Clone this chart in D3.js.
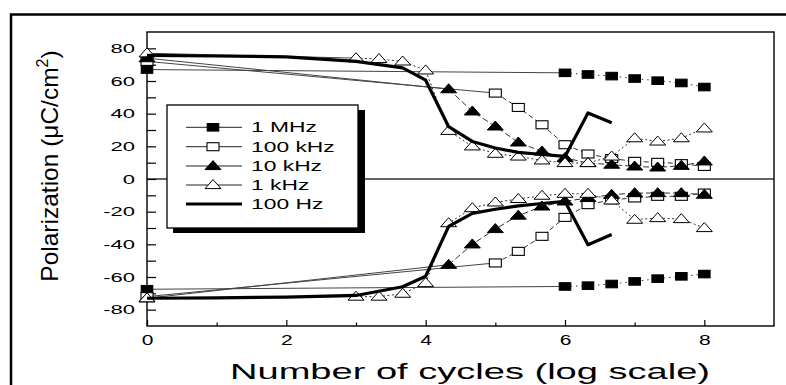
<!DOCTYPE html>
<html><head><meta charset="utf-8">
<script src="https://cdn.jsdelivr.net/npm/d3@7"></script>
<style>
html,body{margin:0;padding:0;background:#fff;}
svg{display:block;font-family:"Liberation Sans",Arial,sans-serif;}
</style></head>
<body><svg id="c" width="786" height="385"></svg>
<script>
// ---- data (x = log10 of number of cycles, y = polarization in uC/cm2) ----
const seriesNames = ["1 MHz", "100 kHz", "10 kHz", "1 kHz", "100 Hz"];

const x1MHz = [0, 6, 6.33, 6.67, 7, 7.33, 7.67, 8];
const p1MHzPos = [67, 65, 64, 63, 61.5, 60.2, 58.8, 56.3];
const p1MHzNeg = [-67.5, -65.8, -65.3, -64.3, -62.7, -61, -59.6, -58.2];

const x100kHz = [0, 5, 5.33, 5.67, 6, 6.33, 6.67, 7, 7.33, 7.67, 8];
const p100kHzPos = [72, 52.6, 43.8, 33.2, 21, 15.3, 12.5, 10.8, 10.2, 9.4, 7.7];
const p100kHzNeg = [-72, -51.4, -44.3, -35.1, -23.5, -15.7, -12.7, -11.6, -10.6, -10.6, -8.6];

const x10kHz = [0, 4.33, 4.67, 5, 5.33, 5.67, 6, 6.33, 6.67, 7, 7.33, 7.67, 8];
const p10kHzPos = [74, 55, 41.4, 32.2, 22.4, 16.9, 12.9, 9.8, 8.8, 7.7, 7.1, 8.1, 10.8];
const p10kHzNeg = [-73, -52.5, -40, -30.6, -22.4, -16.8, -13.7, -11.6, -9.6, -8.6, -8.6, -8.6, -9.6];

const x1kHz = [0, 3, 3.33, 3.67, 4, 4.33, 4.67, 5, 5.33, 5.67, 6, 6.33, 6.67, 7, 7.33, 7.67, 8];
const p1kHzPos = [77, 74, 73.5, 72, 66.5, 29.5, 20, 15.5, 13.8, 11.4, 9.8, 9.8, 13.8, 25, 23, 25, 31];
const p1kHzNeg = [-73, -72, -72, -70.2, -63.7, -27, -17.8, -14.3, -12.2, -10.2, -9, -9, -13.1, -24.9, -23.9, -24.5, -30];

const x100Hz = [0, 1, 2, 3, 3.67, 4, 4.33, 4.67, 5, 5.33, 5.67, 6, 6.33, 6.67];
const p100HzPos = [75.7, 75.3, 74.8, 72, 68, 60.5, 32, 23, 19, 16.3, 15, 13.8, 40.4, 34.5];
const p100HzNeg = [-73, -72.8, -72.3, -71.3, -66, -59.5, -29, -21, -18.5, -16.5, -15, -13.7, -40.2, -34];

const yTickValues = [-80, -70, -60, -50, -40, -30, -20, -10, 0, 10, 20, 30, 40, 50, 60, 70, 80];
const xMajorTicks = [0, 2, 4, 6, 8];
const xMinorTicks = [1, 3, 5, 7];
const xTitle = "Number of cycles (log scale)";

// ---- drawing ----
const svg = d3.select("#c");
const K = 1.63; // horizontal stretch of the original lettering
function stretch(sel, k) {
  sel.each(function () {
    const L = this.getComputedTextLength();
    if (L > 0) d3.select(this).attr("textLength", L * k).attr("lengthAdjust", "spacingAndGlyphs");
  });
}

const L = 147, R = 774, T = 32, B = 326;
const x = d3.scaleLinear().domain([0, 9]).range([L, R]);
const y = d3.scaleLinear().domain([-90, 90]).range([B, T]);

// outer frame
svg.append("rect").attr("x", 11).attr("y", 14.5).attr("width", 800).attr("height", 400)
  .attr("fill", "none").attr("stroke", "#000").attr("stroke-width", 2.5);

// zero line
svg.append("line").attr("x1", L).attr("x2", R).attr("y1", y(0)).attr("y2", y(0))
  .attr("stroke", "#333").attr("stroke-width", 1.6);

// axes
const yAx = svg.append("g").attr("transform", `translate(${L},0)`)
  .call(d3.axisLeft(y).tickValues(yTickValues).tickSizeInner(-9).tickSizeOuter(0).tickPadding(12)
    .tickFormat(d => (d % 20 === 0 ? String(d) : "")));
yAx.select(".domain").remove();
yAx.selectAll(".tick line").attr("stroke", "#000").attr("stroke-width", 1.2);
yAx.selectAll(".tick text").attr("font-size", 13.5).attr("fill", "#000")
  .attr("font-family", "Liberation Sans, Arial, sans-serif").call(stretch, K);

const xAx = svg.append("g").attr("transform", `translate(0,${B})`)
  .call(d3.axisBottom(x).tickValues(xMajorTicks).tickSizeInner(-6).tickSizeOuter(0).tickPadding(9)
    .tickFormat(d => String(d)));
xAx.select(".domain").remove();
xAx.selectAll(".tick line").attr("stroke", "#000").attr("stroke-width", 1.2);
xAx.selectAll(".tick text").attr("font-size", 14).attr("fill", "#000")
  .attr("font-family", "Liberation Sans, Arial, sans-serif").call(stretch, 1.5);
const xAxm = svg.append("g").attr("transform", `translate(0,${B})`)
  .call(d3.axisBottom(x).tickValues(xMinorTicks).tickSizeInner(-3.5).tickSizeOuter(0).tickFormat(""));
xAxm.select(".domain").remove();
xAxm.selectAll(".tick line").attr("stroke", "#000").attr("stroke-width", 1.2);

// plot frame
svg.append("rect").attr("x", L).attr("y", T).attr("width", R - L).attr("height", B - T)
  .attr("fill", "none").attr("stroke", "#000").attr("stroke-width", 1.4);

// series
const series = [
  { name: seriesNames[0], xs: x1MHz, branches: [p1MHzPos, p1MHzNeg], marker: "sqFill", dash: "1.5,4" },
  { name: seriesNames[1], xs: x100kHz, branches: [p100kHzPos, p100kHzNeg], marker: "sqOpen", dash: "5,3" },
  { name: seriesNames[2], xs: x10kHz, branches: [p10kHzPos, p10kHzNeg], marker: "triFill", dash: "6,3" },
  { name: seriesNames[3], xs: x1kHz, branches: [p1kHzPos, p1kHzNeg], marker: "triOpen", dash: "2,2.5" },
  { name: seriesNames[4], xs: x100Hz, branches: [p100HzPos, p100HzNeg], marker: null, dash: null }
];

const line = d3.line().x(d => x(d[0])).y(d => y(d[1]));

function drawMarker(g, type, cx, cy) {
  if (type === "sqFill" || type === "sqOpen") {
    const w = type === "sqFill" ? 11.5 : 12, h = type === "sqFill" ? 7.5 : 8;
    g.append("rect").attr("x", cx - w / 2).attr("y", cy - h / 2).attr("width", w).attr("height", h)
      .attr("fill", type === "sqFill" ? "#000" : "#fff").attr("stroke", "#000").attr("stroke-width", 1.1);
  } else if (type === "triFill" || type === "triOpen") {
    const w = 16, h = 9;
    const pts = [[cx, cy - h * 0.6], [cx + w / 2, cy + h * 0.4], [cx - w / 2, cy + h * 0.4]];
    g.append("path").attr("d", d3.line()(pts) + "Z")
      .attr("fill", type === "triFill" ? "#000" : "#fff").attr("stroke", "#000").attr("stroke-width", 1);
  }
}

const gLines = svg.append("g");
const gMarks = svg.append("g");
series.forEach(s => {
  s.branches.forEach(vals => {
    const pts = s.xs.map((xv, i) => [xv, vals[i]]);
    if (s.marker) {
      // first long connecting segment: thin solid
      gLines.append("path").attr("d", line(pts.slice(0, 2))).attr("fill", "none")
        .attr("stroke", "#444").attr("stroke-width", 1);
      gLines.append("path").attr("d", line(pts.slice(1))).attr("fill", "none")
        .attr("stroke", "#333").attr("stroke-width", 1).attr("stroke-dasharray", s.dash);
      pts.forEach(p => drawMarker(gMarks, s.marker, x(p[0]), y(p[1])));
    }
  });
});
// thick 100 Hz line on top
const s100 = series[4];
s100.branches.forEach(vals => {
  const pts = s100.xs.map((xv, i) => [xv, vals[i]]);
  svg.append("path").attr("d", line.curve(d3.curveLinear)(pts)).attr("fill", "none")
    .attr("stroke", "#000").attr("stroke-width", 3.2).attr("stroke-linejoin", "round");
});

// legend
const lg = svg.append("g");
lg.append("rect").attr("x", 173).attr("y", 110).attr("width", 192).attr("height", 123).attr("fill", "#000");
lg.append("rect").attr("x", 167).attr("y", 105).attr("width", 191).attr("height", 123)
  .attr("fill", "#fff").attr("stroke", "#000").attr("stroke-width", 1.3);
const rowY = [127.3, 146.7, 166, 185, 204];
series.forEach((s, i) => {
  const ry = rowY[i];
  lg.append("line").attr("x1", 186).attr("x2", 242).attr("y1", ry).attr("y2", ry)
    .attr("stroke", s.marker ? "#222" : "#000").attr("stroke-width", s.marker ? 1 : 2.8);
  if (s.marker) drawMarker(lg, s.marker, 213, ry);
  lg.append("text").attr("x", 251).attr("y", ry + 5).attr("font-size", 14).attr("fill", "#000")
    .text(s.name).call(stretch, K);
});

// axis titles
const xt = svg.append("text").attr("x", 470).attr("y", 379).attr("text-anchor", "middle")
  .attr("font-size", 22).attr("fill", "#000").text(xTitle);
{
  const base = xt.node().getComputedTextLength();
  xt.call(stretch, 480 / base);
}

const yt = svg.append("text").attr("transform", "translate(58,166) rotate(-90)")
  .attr("text-anchor", "middle").attr("font-size", 24.5).attr("fill", "#000");
yt.append("tspan").text("Polarization (μC/cm");
yt.append("tspan").attr("font-size", 16).attr("dy", -10).text("2");
yt.append("tspan").attr("dy", 10).text(")");
</script>
</body></html>
